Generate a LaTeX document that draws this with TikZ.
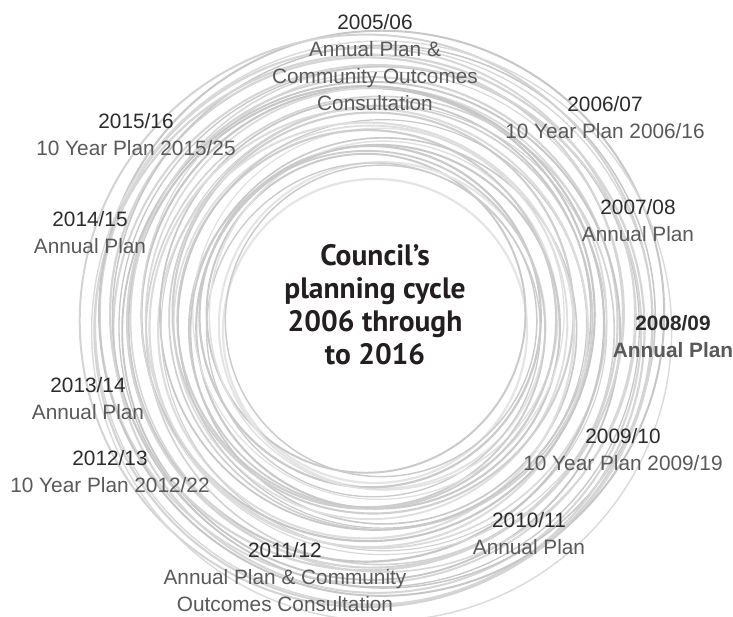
\documentclass[tikz,border=0pt]{standalone}
\usepackage{fontspec}
\setmainfont{Liberation Sans}
\newfontfamily\ctrfont{PT Sans}
\definecolor{yrcol}{HTML}{2B2B2B}
\definecolor{dscol}{HTML}{595959}
\definecolor{ctrcol}{HTML}{231F20}
\begin{document}
\begin{tikzpicture}[x=1pt,y=-1pt,
  lbl/.style={align=center,inner sep=0pt,font=\fontsize{20.8}{27}\selectfont},
  blbl/.style={align=center,inner sep=0pt,font=\fontsize{20.8}{27}\selectfont\bfseries},
  ctr/.style={align=center,inner sep=0pt,text=ctrcol,font=\ctrfont\fontsize{29.5}{33}\selectfont\bfseries}]
\fill[white] (0,0) rectangle (733,617);
\useasboundingbox (0,0) rectangle (733,617);
\foreach \i in {0,...,37}{
  \pgfmathsetmacro\r{152+138*\i/37}
  \pgfmathsetmacro\cx{375+9*sin(\i*137.5)}
  \pgfmathsetmacro\cy{322+9*cos(\i*97.3)}
  \pgfmathsetmacro\sh{10+12*abs(sin(\i*59))}
  \pgfmathsetmacro\lw{1.1+1.1*abs(cos(\i*71))}
  \draw[black!\sh, line width=\lw pt] (\cx,\cy) circle[radius=\r];
}
\node[lbl] (l05) at (375,63) {\textcolor{yrcol}{2005/06}\\\textcolor{dscol}{Annual Plan \&}\\\textcolor{dscol}{Community Outcomes}\\\textcolor{dscol}{Consultation}};
\node[lbl] (l06) at (605,118) {\textcolor{yrcol}{2006/07}\\\textcolor{dscol}{10 Year Plan 2006/16}};
\node[lbl] (l07) at (638,221) {\textcolor{yrcol}{2007/08}\\\textcolor{dscol}{Annual Plan}};
\node[blbl] (l08) at (673,337) {\textcolor{yrcol}{2008/09}\\\textcolor{dscol}{Annual Plan}};
\node[lbl] (l09) at (623,450) {\textcolor{yrcol}{2009/10}\\\textcolor{dscol}{10 Year Plan 2009/19}};
\node[lbl] (l10) at (529,534) {\textcolor{yrcol}{2010/11}\\\textcolor{dscol}{Annual Plan}};
\node[lbl] (l11) at (285,577) {\textcolor{yrcol}{2011/12}\\\textcolor{dscol}{Annual Plan \& Community}\\\textcolor{dscol}{Outcomes Consultation}};
\node[lbl] (l12) at (110,472) {\textcolor{yrcol}{2012/13}\\\textcolor{dscol}{10 Year Plan 2012/22}};
\node[lbl] (l13) at (88,399) {\textcolor{yrcol}{2013/14}\\\textcolor{dscol}{Annual Plan}};
\node[lbl] (l14) at (90,233) {\textcolor{yrcol}{2014/15}\\\textcolor{dscol}{Annual Plan}};
\node[lbl] (l15) at (136,135) {\textcolor{yrcol}{2015/16}\\\textcolor{dscol}{10 Year Plan 2015/25}};
\node[ctr] (title) at (375,305) {Council’s\\planning cycle\\2006 through\\to 2016};
\end{tikzpicture}
\end{document}
